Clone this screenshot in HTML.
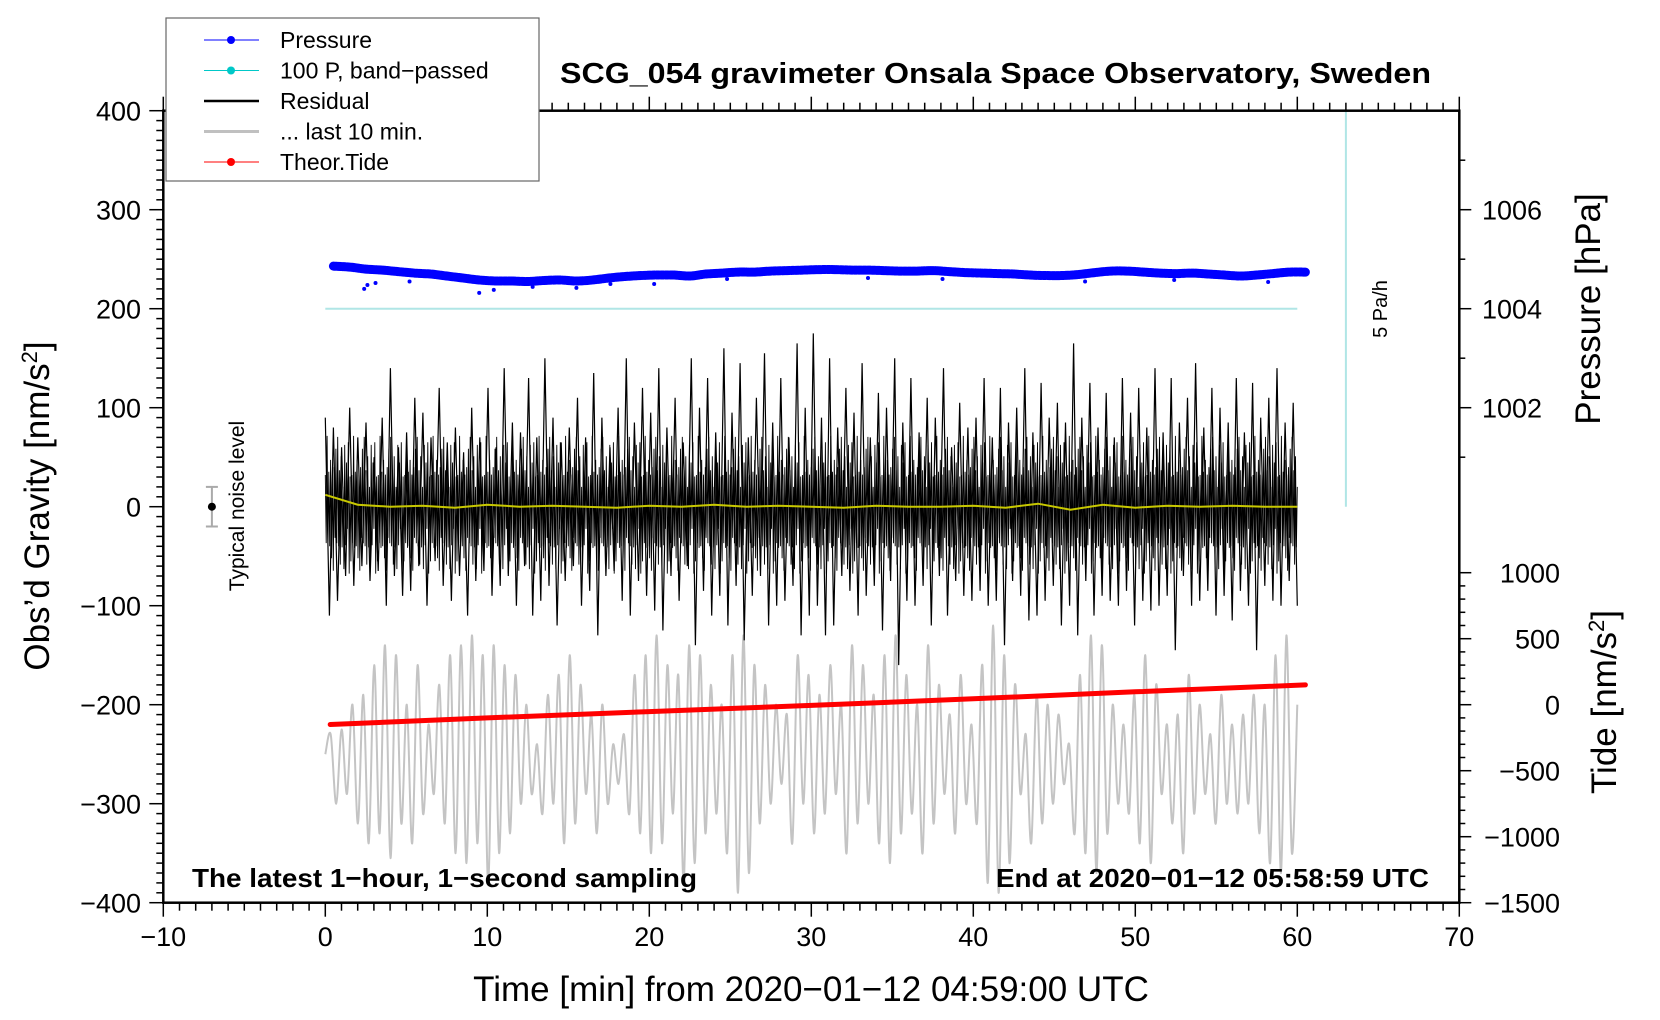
<!DOCTYPE html>
<html><head><meta charset="utf-8"><style>
html,body{margin:0;padding:0;background:#fff}
svg{display:block;font-family:"Liberation Sans",Arial,sans-serif}
</style></head><body>
<svg id="chart" width="1660" height="1020" viewBox="0 0 1660 1020" xmlns="http://www.w3.org/2000/svg"></svg>
<script>
// ---- data ----
const xTicks = [-10,0,10,20,30,40,50,60,70];
const yTicks = [400,300,200,100,0,-100,-200,-300,-400];
const pressureTicks = [1002,1004,1006];
const tideTicks = [1000,500,0,-500,-1000,-1500];
const residual = [90,-110,80,-95,60,-70,100,-80,70,-60,85,-75,50,-65,90,-100,140,-70,60,-90,
75,-85,110,-60,95,-100,70,-55,120,-80,65,-95,80,-70,55,-110,100,-75,70,-65,
120,-90,60,-80,140,-70,85,-100,75,-60,130,-110,70,-95,150,-80,90,-120,65,-75,
80,-60,110,-100,70,-85,135,-130,90,-70,60,-65,100,-95,150,-110,85,-75,120,-90,
95,-105,140,-125,80,-70,110,-95,65,-60,150,-140,100,-85,130,-110,75,-90,160,-120,
95,-80,145,-135,70,-90,110,-70,155,-120,85,-100,130,-95,70,-80,165,-130,100,-110,
175,-100,90,-130,150,-120,80,-70,120,-85,95,-110,145,-90,70,-80,115,-125,100,-75,
150,-160,85,-95,130,-100,75,-80,110,-120,90,-70,140,-110,60,-75,105,-90,80,-95,
90,-85,130,-100,70,-95,120,-140,85,-75,100,-90,140,-115,75,-110,125,-95,90,-80,
105,-120,85,-100,165,-130,90,-75,125,-110,80,-90,115,-95,70,-100,130,-85,95,-120,
120,-95,80,-105,140,-100,75,-90,130,-145,85,-70,110,-100,145,-95,80,-85,120,-110,
100,-90,85,-115,130,-85,75,-100,125,-145,90,-80,110,-95,140,-100,85,-75,105,-100];
const residualInner = [40,-35,55,-45,30,-50,45,-40,35,-55,50,-30,45,-40,60,-50,35,-45,55,-35,25,-60,48,-42,38,-28,62,-52,33,-47];
const last10 = [-250,-230,-300,-225,-290,-200,-320,-190,-340,-160,-330,-140,-355,-150,-320,-200,-340,-160,-310,-220,
-290,-180,-320,-150,-350,-140,-360,-130,-340,-150,-380,-140,-350,-160,-330,-170,-300,-200,-290,-240,
-310,-190,-300,-170,-340,-150,-320,-180,-290,-210,-330,-200,-300,-240,-280,-230,-310,-170,-330,-150,
-350,-130,-340,-160,-310,-170,-380,-140,-360,-150,-330,-180,-310,-200,-350,-150,-390,-130,-370,-160,
-320,-180,-300,-200,-280,-210,-340,-150,-300,-170,-330,-190,-310,-160,-290,-200,-350,-140,-320,-160,
-300,-190,-340,-150,-360,-130,-330,-170,-310,-200,-350,-140,-320,-180,-290,-210,-330,-170,-300,-220,
-320,-160,-380,-120,-390,-150,-360,-180,-290,-230,-340,-190,-320,-200,-300,-210,-280,-240,-330,-170,
-350,-130,-370,-140,-330,-200,-300,-220,-310,-190,-340,-150,-360,-180,-290,-220,-320,-210,-350,-170,
-310,-200,-290,-230,-320,-190,-300,-220,-310,-210,-300,-190,-330,-200,-360,-150,-370,-130,-350,-200];
const pressure = [1004.86,1004.84,1004.80,1004.78,1004.75,1004.72,1004.70,1004.66,1004.62,1004.58,
1004.56,1004.56,1004.55,1004.57,1004.58,1004.56,1004.58,1004.62,1004.65,1004.67,
1004.68,1004.68,1004.66,1004.70,1004.72,1004.74,1004.74,1004.76,1004.77,1004.78,
1004.79,1004.79,1004.78,1004.78,1004.77,1004.76,1004.76,1004.77,1004.75,1004.73,
1004.72,1004.71,1004.70,1004.68,1004.67,1004.67,1004.69,1004.73,1004.76,1004.76,
1004.74,1004.72,1004.71,1004.72,1004.70,1004.68,1004.66,1004.68,1004.71,1004.74,1004.74];
const pressureOutlierX = [2.4,2.6,3.1,5.2,9.5,10.4,12.8,15.5,17.6,20.3,24.8,33.5,38.1,46.9,52.4,58.2];
const pressureOutlierP = [1004.4,1004.48,1004.52,1004.55,1004.32,1004.38,1004.44,1004.42,1004.5,1004.5,1004.6,1004.62,1004.6,1004.55,1004.58,1004.54];
const tideX = [0.3,10,20,30,40,50,60.5];
const tideV = [-150,-100,-52,-5,45,98,150];
const yellowV = [12,2,0,1,-1,2,0,1,0,-1,1,0,2,0,1,0,-1,1,0,0,1,-1,3,-3,2,-1,1,0,1,0,0];
const pressureLineX = [63,63];
const pressureLineG = [0,400];

// ---- scales ----
const X = m => 325.3 + m*16.2;
const Y = g => 506.7 - g*0.99;
const PtoG = p => 200 + (p-1004)*50;
const TtoG = t => -200 + t/7.5;

const svg = document.getElementById('chart');
const NS = 'http://www.w3.org/2000/svg';
function mk(tag, attrs, parent){const e=document.createElementNS(NS,tag);for(const k in attrs)e.setAttribute(k,attrs[k]);(parent||svg).appendChild(e);return e;}
function txt(s, attrs, parent){const e=mk('text',attrs,parent);e.textContent=s;return e;}
function smooth(pts){let d='M'+pts[0][0].toFixed(1)+' '+pts[0][1].toFixed(1);
 for(let i=0;i<pts.length-1;i++){const p0=pts[Math.max(0,i-1)],p1=pts[i],p2=pts[i+1],p3=pts[Math.min(pts.length-1,i+2)];
  const c1x=p1[0]+(p2[0]-p0[0])/6,c1y=p1[1]+(p2[1]-p0[1])/6,c2x=p2[0]-(p3[0]-p1[0])/6,c2y=p2[1]-(p3[1]-p1[1])/6;
  d+='C'+c1x.toFixed(1)+' '+c1y.toFixed(1)+' '+c2x.toFixed(1)+' '+c2y.toFixed(1)+' '+p2[0].toFixed(1)+' '+p2[1].toFixed(1);}
 return d;}

// ---- series ----
const gGrey = mk('g',{});


mk('path',{d:smooth(last10.map((v,i)=>[X(i*60/(last10.length-1)),Y(v)])),fill:'none',stroke:'#c4c4c4','stroke-width':2},gGrey);

const gRes = mk('g',{});


let d='';
residual.forEach((v,i)=>{d+=(i?'L':'M')+X(i*60/(residual.length-1)).toFixed(1)+' '+Y(v).toFixed(1);});
mk('path',{d:d,fill:'none',stroke:'#000','stroke-width':1.2},gRes);
d='';
const nIn=1100;
for(let i=0;i<=nIn;i++){const v=residualInner[i%residualInner.length]*(0.8+0.5*((i*7)%5)/4);d+=(i?'L':'M')+X(i*60/nIn).toFixed(1)+' '+Y(v).toFixed(1);}
mk('path',{d:d,fill:'none',stroke:'#000','stroke-width':0.9},gRes);

const gY = mk('g',{});


d='';
yellowV.forEach((v,i)=>{d+=(i?'L':'M')+X(i*60/(yellowV.length-1)).toFixed(1)+' '+Y(v).toFixed(1);});
mk('path',{d:d,fill:'none',stroke:'#c8c800','stroke-width':2},gY);

const gT = mk('g',{});


d='';
tideX.forEach((x,i)=>{d+=(i?'L':'M')+X(x).toFixed(1)+' '+Y(TtoG(tideV[i])).toFixed(1);});
mk('path',{d:d,fill:'none',stroke:'#ff0000','stroke-width':5,'stroke-linecap':'round'},gT);

const gP = mk('g',{});


const pPts = pressure.map((p,i)=>[X(0.5+i*(60/(pressure.length-1))),Y(PtoG(p))]);
mk('path',{d:smooth(pPts),fill:'none',stroke:'#0000ff','stroke-width':9,'stroke-linejoin':'round','stroke-linecap':'round','stroke-dasharray':'3 1.5'},gP);
mk('path',{d:smooth(pPts),fill:'none',stroke:'#0000ff','stroke-width':5},gP);
pressureOutlierX.forEach((x,i)=>{mk('circle',{cx:X(x),cy:Y(PtoG(pressureOutlierP[i])),r:2,fill:'#0000ff'},gP);});

const cy = mk('line',{x1:X(0),x2:X(60),y1:Y(200),y2:Y(200),stroke:'#b0e6e6','stroke-width':2});


const pl = mk('line',{x1:X(pressureLineX[0]),x2:X(pressureLineX[1]),y1:Y(pressureLineG[0]),y2:Y(pressureLineG[1]),stroke:'#b0e6e6','stroke-width':2});


const pt = txt('5 Pa/h',{x:0,y:0,'font-size':20,'text-anchor':'middle',transform:'translate(1387,309) rotate(-90)'});



// noise level
const gN = mk('g',{});


mk('line',{x1:X(-7),x2:X(-7),y1:Y(20),y2:Y(-20),stroke:'#aaa','stroke-width':2},gN);
mk('line',{x1:X(-7)-6,x2:X(-7)+6,y1:Y(20),y2:Y(20),stroke:'#aaa','stroke-width':2},gN);
mk('line',{x1:X(-7)-6,x2:X(-7)+6,y1:Y(-20),y2:Y(-20),stroke:'#aaa','stroke-width':2},gN);
mk('circle',{cx:X(-7),cy:Y(0),r:4,fill:'#000'},gN);
const nt = txt('Typical noise level',{x:0,y:0,'font-size':21,'text-anchor':'middle',transform:'translate(244,506) rotate(-90)'});



// ---- axes ----
const L=X(-10), R=X(70), T=Y(400), B=Y(-400);
const frame = mk('rect',{x:L,y:T,width:R-L,height:B-T,fill:'none',stroke:'#000','stroke-width':2.5});


const gx = mk('g',{});


for(let m=-10;m<=70;m++){const big=m%10===0;
 mk('line',{x1:X(m),x2:X(m),y1:B,y2:B+(big?14:8),stroke:'#000','stroke-width':1.5},gx);
 mk('line',{x1:X(m),x2:X(m),y1:T,y2:T-(big?14:8),stroke:'#000','stroke-width':1.5},gx);}
xTicks.forEach(v=>{const t=txt(String(v).replace('-','\u2212'),{x:X(v),y:946,'font-size':27,'text-anchor':'middle'},gx);
 
 });
const gyl = mk('g',{});


for(let g=-400;g<=400;g+=10){const big=g%100===0;mk('line',{x1:L,x2:L-(big?14:7),y1:Y(g),y2:Y(g),stroke:'#000','stroke-width':1.5},gyl);}
yTicks.forEach(v=>{const t=txt(String(v).replace('-','\u2212'),{x:141,y:Y(v)+10,'font-size':27,'text-anchor':'end'},gyl);
 
 });
const gpr = mk('g',{});


for(let p=1001;p<=1007;p++){const big=p%2===0;mk('line',{x1:R,x2:R+(big?12:6),y1:Y(PtoG(p)),y2:Y(PtoG(p)),stroke:'#000','stroke-width':1.5},gpr);}
pressureTicks.forEach(v=>{const t=txt(String(v),{x:1482,y:Y(PtoG(v))+10,'font-size':27},gpr);
 
 });
const gtd = mk('g',{});


for(let t=-1500;t<=1000;t+=100){const big=t%500===0;mk('line',{x1:R,x2:R+(big?12:6),y1:Y(TtoG(t)),y2:Y(TtoG(t)),stroke:'#000','stroke-width':1.5},gtd);}
tideTicks.forEach(v=>{const t=txt(String(v).replace('-','\u2212'),{x:1560,y:Y(TtoG(v))+10,'font-size':27,'text-anchor':'end'},gtd);
 
 });

// titles
function ttl(s,name,attrs){const t=txt('',attrs);t.innerHTML=s;return t;}
ttl('Obs\u2019d Gravity [nm/s<tspan dy="-12" font-size="22">2</tspan><tspan dy="12">]</tspan>','y-axis-title',{x:0,y:0,'font-size':35,'text-anchor':'middle',transform:'translate(49,506) rotate(-90)'});
ttl('Pressure [hPa]','pressure-axis-title',{x:0,y:0,'font-size':35,'text-anchor':'middle',transform:'translate(1600,309) rotate(-90)'});
ttl('Tide [nm/s<tspan dy="-12" font-size="22">2</tspan><tspan dy="12">]</tspan>','tide-axis-title',{x:0,y:0,'font-size':35,'text-anchor':'middle',transform:'translate(1616,702) rotate(-90)'});
ttl('Time [min] from 2020\u221201\u221212 04:59:00 UTC','x-axis-title',{x:811,y:1001,'font-size':35,'text-anchor':'middle'});
ttl('SCG_054 gravimeter Onsala Space Observatory, Sweden','chart-title',{x:560,y:83,'font-size':29,'font-weight':'bold',textLength:871,lengthAdjust:'spacingAndGlyphs'});
ttl('The latest 1\u2212hour, 1\u2212second sampling','sampling-note',{x:192,y:887,'font-size':26,'font-weight':'bold',textLength:505,lengthAdjust:'spacingAndGlyphs'});
ttl('End at 2020\u221201\u221212 05:58:59 UTC','end-time-note',{x:1429,y:887,'font-size':26,'font-weight':'bold','text-anchor':'end',textLength:433,lengthAdjust:'spacingAndGlyphs'});

// legend
const lg = mk('g',{});


mk('rect',{x:166,y:18,width:373,height:163,fill:'#fff',stroke:'#666','stroke-width':1.2},lg);
const legendLabels = ['Pressure','100 P, band\u2212passed','Residual','... last 10 min.','Theor.Tide'];
const legendColors = ['#0000ff','#00c8c8','#000','#c0c0c0','#ff0000'];
const legendWidths = [1,1,2.5,3,1];
const legendDots = [true,true,false,false,true];
legendLabels.forEach((s,i)=>{const y=40+i*30.5;
 const e=mk('g',{},lg);
 
 
 mk('line',{x1:204,x2:259,y1:y,y2:y,stroke:legendColors[i],'stroke-width':legendWidths[i]},e);
 if(legendDots[i]) mk('circle',{cx:231,cy:y,r:4,fill:legendColors[i]},e);
 txt(s,{x:280,y:y+8,'font-size':23},e);});
</script>
</body></html>
